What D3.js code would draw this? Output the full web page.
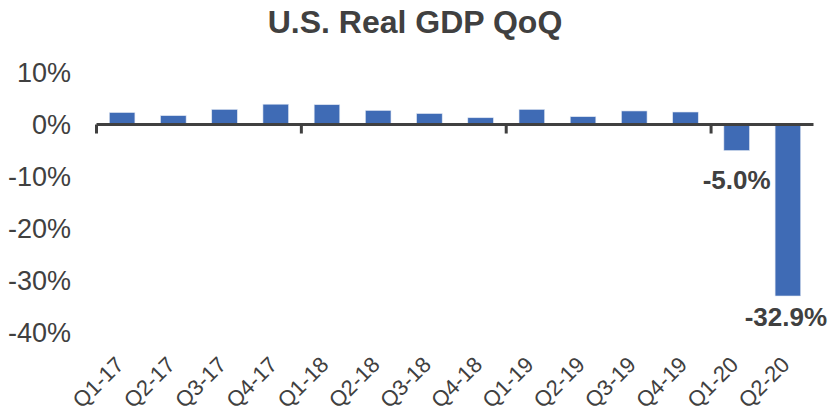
<!DOCTYPE html>
<html>
<head>
<meta charset="utf-8">
<script src="https://cdn.jsdelivr.net/npm/d3@7"></script>
<style>
  html, body { margin: 0; padding: 0; background: #fff; }
  svg { display: block; }
</style>
</head>
<body>
<svg id="chart" width="830" height="419"></svg>
<script>
const title = "U.S. Real GDP QoQ";
const categories = ["Q1-17","Q2-17","Q3-17","Q4-17","Q1-18","Q2-18","Q3-18","Q4-18","Q1-19","Q2-19","Q3-19","Q4-19","Q1-20","Q2-20"];
const gdpValues = [2.3, 1.7, 2.9, 3.9, 3.8, 2.7, 2.1, 1.3, 2.9, 1.5, 2.6, 2.4, -5.0, -32.9];
const yTicks = [10, 0, -10, -20, -30, -40];
const labelledCategories = ["Q1-20", "Q2-20"];

const W = 830, H = 419;
const svg = d3.select("#chart");
const textColor = "#404040";
const barColor = "#3F6BB5";

const x = d3.scaleBand().domain(categories).range([96.5, 813.5]).paddingInner(0.5).paddingOuter(0.25);
const y = d3.scaleLinear().domain([-40, 10]).range([333, 72.4]);

// Title
svg.append("text")
  .attr("x", 415).attr("y", 33)
  .attr("text-anchor", "middle")
  .attr("font-family", "Liberation Sans, Arial, sans-serif")
  .attr("font-size", 32).attr("font-weight", "bold")
  .attr("fill", textColor)
  .text(title);

// Y axis labels
const yAxis = d3.axisLeft(y).tickValues(yTicks).tickSize(0).tickPadding(0).tickFormat(d => d + "%");
const yg = svg.append("g").attr("transform", "translate(71,0)").call(yAxis);
yg.select(".domain").remove();
yg.selectAll("text")
  .attr("font-family", "Liberation Sans, Arial, sans-serif")
  .attr("font-size", 27)
  .attr("fill", textColor);

// Bars
const data = categories.map((c, i) => ({ c, v: gdpValues[i] }));
svg.append("g").selectAll("rect").data(data).join("rect")
  .attr("x", d => x(d.c))
  .attr("width", x.bandwidth())
  .attr("y", d => y(Math.max(0, d.v)))
  .attr("height", d => Math.abs(y(d.v) - y(0)))
  .attr("fill", barColor)
  .attr("stroke", "#dfe6f2")
  .attr("stroke-width", 0.6);

// Zero line and group ticks
const axisG = svg.append("g");
const x0 = x.range()[0], x1 = x.range()[1];
axisG.append("line")
  .attr("x1", x0).attr("x2", x1)
  .attr("y1", y(0)).attr("y2", y(0))
  .attr("stroke", textColor).attr("stroke-width", 3);
const tickIdx = [0, 4, 8, 12];
axisG.selectAll("line.tk").data(tickIdx).join("line")
  .attr("class", "tk")
  .attr("x1", i => x(categories[i]) - x.step() * x.paddingInner() / 2)
  .attr("x2", i => x(categories[i]) - x.step() * x.paddingInner() / 2)
  .attr("y1", y(0)).attr("y2", y(0) + 9)
  .attr("stroke", textColor).attr("stroke-width", 3);

// X axis labels (rotated)
const xAxis = d3.axisBottom(x).tickSize(0).tickPadding(0);
const xg = svg.append("g").attr("transform", "translate(0,366)").call(xAxis);
xg.select(".domain").remove();
xg.selectAll("text")
  .attr("font-family", "Liberation Sans, Arial, sans-serif")
  .attr("font-size", 22)
  .attr("fill", textColor)
  .attr("text-anchor", "end")
  .attr("dy", 0)
  .attr("transform", "translate(3,0) rotate(-45)");

// Data labels
const labelDy = { "Q1-20": 38.5, "Q2-20": 30 };
svg.append("g").selectAll("text")
  .data(data.filter(d => labelledCategories.includes(d.c)))
  .join("text")
  .attr("x", d => x(d.c) + x.bandwidth() / 2 - (d.c === "Q2-20" ? 2 : 0))
  .attr("y", d => y(d.v) + labelDy[d.c])
  .attr("text-anchor", "middle")
  .attr("font-family", "Liberation Sans, Arial, sans-serif")
  .attr("font-size", 26).attr("font-weight", "bold")
  .attr("fill", textColor)
  .text(d => d.v.toFixed(1) + "%");
</script>
</body>
</html>
